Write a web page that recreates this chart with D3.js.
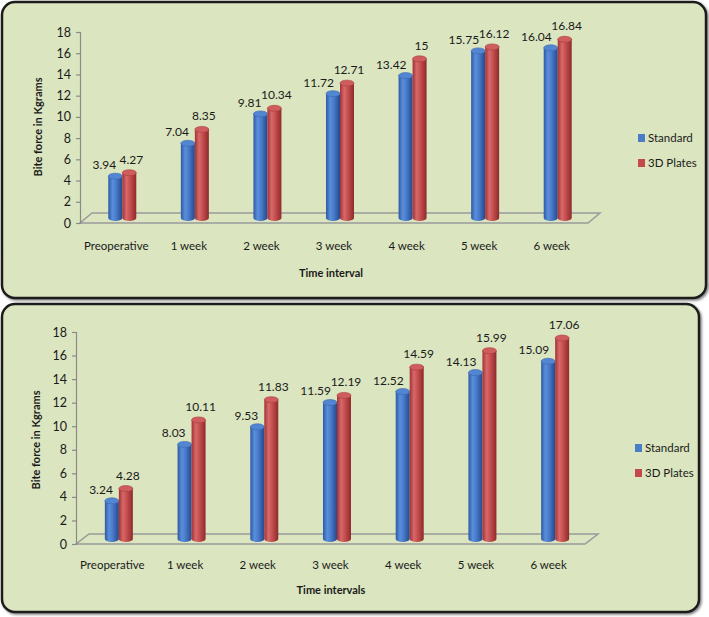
<!DOCTYPE html>
<html>
<head>
<meta charset="utf-8">
<script src="https://cdn.jsdelivr.net/npm/d3@7"></script>
<style>
  body { margin: 0; background: #fff; }
  svg { display: block; }
  text { font-family: Lato, "Open Sans", sans-serif; fill: #1a1a1a; }
</style>
</head>
<body>
<script>
// chart data
const categories = ["Preoperative", "1 week", "2 week", "3 week", "4 week", "5 week", "6  week"];
const seriesNames = ["Standard", "3D Plates"];
const standardTop = [3.94, 7.04, 9.81, 11.72, 13.42, 15.75, 16.04];
const platesTop = [4.27, 8.35, 10.34, 12.71, 15, 16.12, 16.84];
const standardBottom = [3.24, 8.03, 9.53, 11.59, 12.52, 14.13, 15.09];
const platesBottom = [4.28, 10.11, 11.83, 12.19, 14.59, 15.99, 17.06];
const yTicks = [0, 2, 4, 6, 8, 10, 12, 14, 16, 18];

let width = 709, height = 617;

let svg = d3.select("body").append("svg")
    .attr("width", width)
    .attr("height", height);

let defs = svg.append("defs");

function grad(id, stops) {
    let g = defs.append("linearGradient").attr("id", id)
        .attr("x1", "0%").attr("x2", "100%").attr("y1", "0%").attr("y2", "0%");
    stops.forEach(s => g.append("stop").attr("offset", s[0]).attr("stop-color", s[1]));
}
grad("gBlue", [["0%", "#2c5aa3"], ["30%", "#5a8edb"], ["55%", "#4a7ccb"], ["100%", "#24498c"]]);
grad("gRed", [["0%", "#a03236"], ["30%", "#d8696a"], ["55%", "#c6504f"], ["100%", "#8e2a2d"]]);

const colors = ["url(#gBlue)", "url(#gRed)"];
const capColors = ["#5286d2", "#cf5d5d"];
const legendColors = ["#4a7cc8", "#c44a4a"];

let shadow = defs.append("filter").attr("id", "sh").attr("x", "-5%").attr("y", "-5%")
    .attr("width", "110%").attr("height", "110%");
shadow.append("feDropShadow").attr("dx", 1.5).attr("dy", 1.5).attr("stdDeviation", 1.2)
    .attr("flood-color", "#000").attr("flood-opacity", 0.5);

function drawChart(cfg) {
    // panel
    svg.append("rect")
        .attr("x", cfg.panel[0]).attr("y", cfg.panel[1])
        .attr("width", cfg.panel[2]).attr("height", cfg.panel[3])
        .attr("rx", 13).attr("ry", 13)
        .attr("fill", "#dbe5c0")
        .attr("stroke", "#1e1e1e")
        .attr("stroke-width", 2.5)
        .attr("filter", "url(#sh)");

    let g = svg.append("g");

    let yScale = d3.scaleLinear()
        .domain([0, 18])
        .range([cfg.zeroY, cfg.topY]);

    let xScale = d3.scaleBand()
        .domain(categories)
        .range([cfg.axisX, cfg.endX]);

    const dx = cfg.dx, dy = cfg.dy;

    // floor
    let z = yScale(0);
    g.append("path")
        .attr("d", `M${cfg.axisX},${z} L${cfg.endX},${z} L${cfg.endX + dx},${z + dy} L${cfg.axisX + dx},${z + dy} Z`)
        .attr("fill", "none")
        .attr("stroke", "#9a9a9a")
        .attr("stroke-width", 1.5);

    // y axis
    let yAxis = g.append("g")
        .attr("transform", `translate(${cfg.axisX},0)`)
        .call(d3.axisLeft(yScale).tickValues(yTicks).tickSize(4).tickPadding(5));
    yAxis.selectAll("path, line").attr("stroke", "#8a8a8a").attr("stroke-width", 1.2);
    yAxis.selectAll("text").style("font-size", "12.5px").style("font-family", "Lato, sans-serif").attr("fill", "#1a1a1a");

    // category labels
    g.selectAll(".cat")
        .data(categories)
        .enter().append("text")
        .attr("x", d => xScale(d) + xScale.bandwidth() / 2)
        .attr("y", cfg.catY)
        .attr("text-anchor", "middle")
        .style("font-size", "11.5px")
        .text(d => d);

    // cylinders
    const bw = 14, ry = 3;
    cfg.series.forEach((vals, si) => {
        vals.forEach((v, i) => {
            let cx = xScale(categories[i]) + xScale.bandwidth() / 2 + dx / 2 + (si === 0 ? -bw / 2 : bw / 2);
            let base = yScale(0) + dy / 2;
            let top = yScale(v) + dy / 2;
            let x0 = cx - bw / 2;
            g.append("path")
                .attr("d", `M${x0},${top} L${x0},${base} A${bw / 2},${ry} 0 0 0 ${x0 + bw},${base} L${x0 + bw},${top} Z`)
                .attr("fill", colors[si]);
            g.append("ellipse")
                .attr("cx", cx).attr("cy", top)
                .attr("rx", bw / 2).attr("ry", ry)
                .attr("fill", capColors[si])
                .attr("stroke", si === 0 ? "#3c68ad" : "#a83a3c")
                .attr("stroke-width", 0.6);
            // value label
            g.append("text")
                .attr("x", si === 0 ? cx + 1 : cx + 2)
                .attr("y", top - (si === 0 ? 7 : 9))
                .attr("text-anchor", si === 0 ? "end" : "middle")
                .style("font-size", "12px")
                .text(v);
        });
    });

    // axis titles
    g.append("text")
        .attr("transform", `translate(${cfg.yTitleX},${cfg.yTitleY}) rotate(-90)`)
        .attr("text-anchor", "middle")
        .style("font-size", "11px")
        .style("font-weight", "bold")
        .text("Bite force in Kgrams");

    g.append("text")
        .attr("x", cfg.xTitleX)
        .attr("y", cfg.xTitleY)
        .attr("text-anchor", "middle")
        .style("font-size", "11px")
        .style("font-weight", "bold")
        .text(cfg.xTitle);

    // legend
    let legend = g.selectAll(".legend")
        .data(seriesNames)
        .enter().append("g")
        .attr("transform", (d, i) => `translate(${cfg.legendX},${cfg.legendY + i * 25})`);
    legend.append("rect")
        .attr("x", 0).attr("y", -8)
        .attr("width", 7).attr("height", 8)
        .attr("fill", (d, i) => legendColors[i]);
    legend.append("text")
        .attr("x", 10).attr("y", 0)
        .style("font-size", "11.5px")
        .text(d => d);
}

drawChart({
    panel: [2, 2, 704, 296],
    axisX: 80, endX: 588, zeroY: 223, topY: 32, dx: 12, dy: -10,
    catY: 250, xTitle: "Time interval", xTitleX: 331, xTitleY: 277,
    yTitleX: 42, yTitleY: 127,
    legendX: 638, legendY: 142,
    series: [standardTop, platesTop]
});

drawChart({
    panel: [2, 304, 697, 308],
    axisX: 76, endX: 585, zeroY: 544, topY: 332, dx: 13, dy: -10,
    catY: 569, xTitle: "Time intervals", xTitleX: 331, xTitleY: 594,
    yTitleX: 40, yTitleY: 440,
    legendX: 635, legendY: 452,
    series: [standardBottom, platesBottom]
});
</script>
</body>
</html>
